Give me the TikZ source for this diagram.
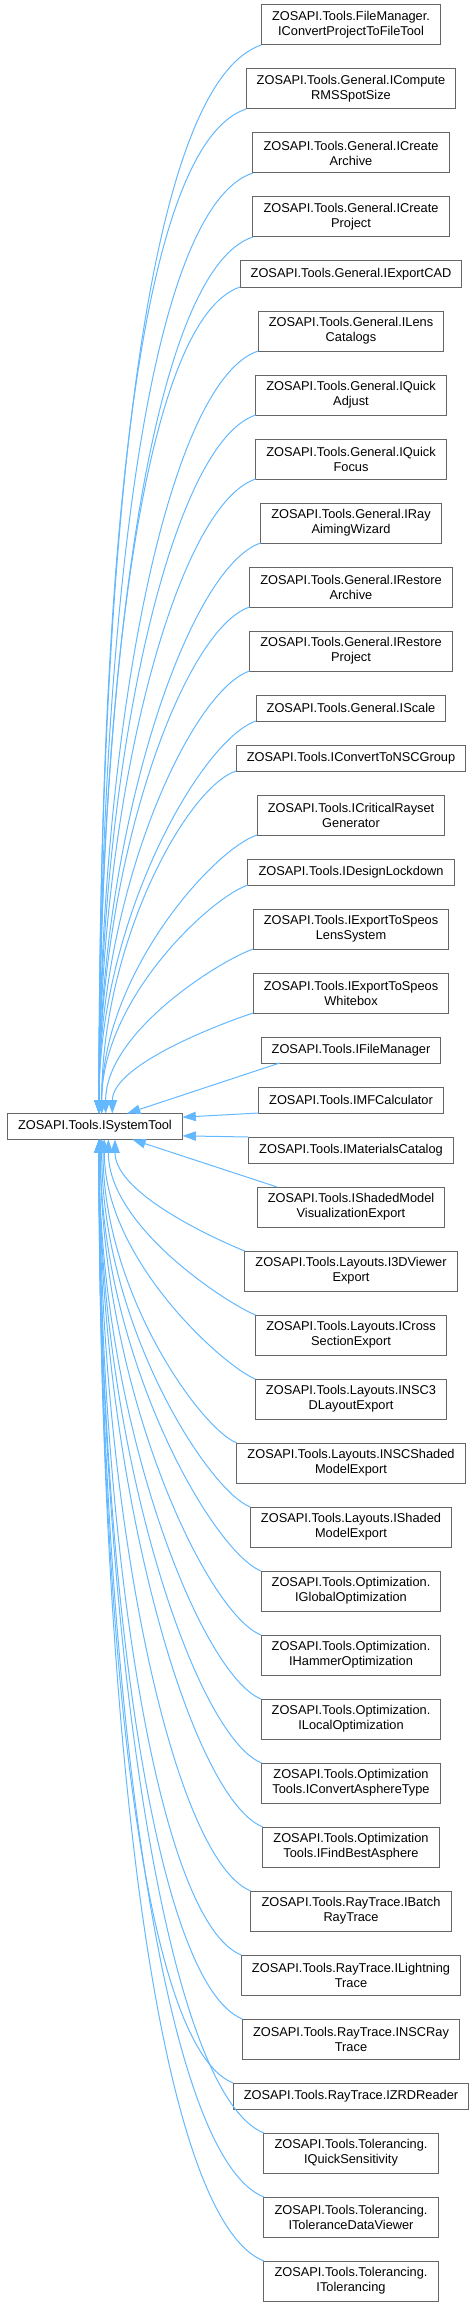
\documentclass[tikz,border=0pt]{standalone}
\usepackage{fontspec}
\setmainfont{Liberation Sans}
\usetikzlibrary{arrows.meta}
\usetikzlibrary{positioning}
\definecolor{edgeblue}{HTML}{63B8FF}
\definecolor{boxgray}{HTML}{666666}
\tikzset{
  oneline/.style={rectangle, draw=boxgray, fill=white, line width=0.75pt, outer sep=0pt, align=center, inner xsep=8pt, inner ysep=0pt, minimum height=19.5pt, font=\fontsize{9.6}{11.25}\selectfont},
  twoline/.style={oneline, minimum height=30pt},
  arrow/.style={draw=edgeblue, line width=0.75pt, -{Triangle[length=10pt, width=7pt]}}
  }

\begin{document}
\begin{tikzpicture}[x=0.75pt, y=0.75pt]
	\useasboundingbox (0,0) rectangle (475,-2308);

	% Base
	\node[oneline] (systool) at (95,-1126.5) {ZOSAPI.Tools.ISystemTool};

	% Nodes
	\node[twoline] (convproj) at (351,-25) {ZOSAPI.Tools.FileManager.\\IConvertProjectToFileTool};
	\node[twoline, below = 18pt of convproj] (rmsspot) {ZOSAPI.Tools.General.ICompute\\RMSSpotSize};
	\node[twoline, below = 18pt of rmsspot] (createarch) {ZOSAPI.Tools.General.ICreate\\Archive};
	\node[twoline, below = 18pt of createarch] (createproj) {ZOSAPI.Tools.General.ICreate\\Project};
	\node[oneline, below = 18pt of createproj] (exportcad) {ZOSAPI.Tools.General.IExportCAD};
	\node[twoline, below = 18pt of exportcad] (lenscat) {ZOSAPI.Tools.General.ILens\\Catalogs};
	\node[twoline, below = 18pt of lenscat] (quickadj) {ZOSAPI.Tools.General.IQuick\\Adjust};
	\node[twoline, below = 18pt of quickadj] (quickfocus) {ZOSAPI.Tools.General.IQuick\\Focus};
	\node[twoline, below = 18pt of quickfocus] (rayaiming) {ZOSAPI.Tools.General.IRay\\AimingWizard};
	\node[twoline, below = 18pt of rayaiming] (restorearch) {ZOSAPI.Tools.General.IRestore\\Archive};
	\node[twoline, below = 18pt of restorearch] (restoreproj) {ZOSAPI.Tools.General.IRestore\\Project};
	\node[oneline, below = 18pt of restoreproj] (scale) {ZOSAPI.Tools.General.IScale};
	\node[oneline, below = 18pt of scale] (tonsc) {ZOSAPI.Tools.IConvertToNSCGroup};
	\node[twoline, below = 18pt of tonsc] (critray) {ZOSAPI.Tools.ICriticalRayset\\Generator};
	\node[oneline, below = 18pt of critray] (lockdown) {ZOSAPI.Tools.IDesignLockdown};
	\node[twoline, below = 18pt of lockdown] (speoslens) {ZOSAPI.Tools.IExportToSpeos\\LensSystem};
	\node[twoline, below = 18pt of speoslens] (speoswhite) {ZOSAPI.Tools.IExportToSpeos\\Whitebox};
	\node[oneline, below = 18pt of speoswhite] (filemgr) {ZOSAPI.Tools.IFileManager};
	\node[oneline, below = 18pt of filemgr] (mfcalc) {ZOSAPI.Tools.IMFCalculator};
	\node[oneline, below = 18pt of mfcalc] (matcat) {ZOSAPI.Tools.IMaterialsCatalog};
	\node[twoline, below = 18pt of matcat] (shadedvis) {ZOSAPI.Tools.IShadedModel\\VisualizationExport};
	\node[twoline, below = 18pt of shadedvis] (viewer3d) {ZOSAPI.Tools.Layouts.I3DViewer\\Export};
	\node[twoline, below = 18pt of viewer3d] (crosssec) {ZOSAPI.Tools.Layouts.ICross\\SectionExport};
	\node[twoline, below = 18pt of crosssec] (nsc3d) {ZOSAPI.Tools.Layouts.INSC3\\DLayoutExport};
	\node[twoline, below = 18pt of nsc3d] (nscshaded) {ZOSAPI.Tools.Layouts.INSCShaded\\ModelExport};
	\node[twoline, below = 18pt of nscshaded] (shadedexp) {ZOSAPI.Tools.Layouts.IShaded\\ModelExport};
	\node[twoline, below = 18pt of shadedexp] (globalopt) {ZOSAPI.Tools.Optimization.\\IGlobalOptimization};
	\node[twoline, below = 18pt of globalopt] (hammeropt) {ZOSAPI.Tools.Optimization.\\IHammerOptimization};
	\node[twoline, below = 18pt of hammeropt] (localopt) {ZOSAPI.Tools.Optimization.\\ILocalOptimization};
	\node[twoline, below = 18pt of localopt] (convasph) {ZOSAPI.Tools.Optimization\\Tools.IConvertAsphereType};
	\node[twoline, below = 18pt of convasph] (bestasph) {ZOSAPI.Tools.Optimization\\Tools.IFindBestAsphere};
	\node[twoline, below = 18pt of bestasph] (batchray) {ZOSAPI.Tools.RayTrace.IBatch\\RayTrace};
	\node[twoline, below = 18pt of batchray] (lightning) {ZOSAPI.Tools.RayTrace.ILightning\\Trace};
	\node[twoline, below = 18pt of lightning] (nscray) {ZOSAPI.Tools.RayTrace.INSCRay\\Trace};
	\node[oneline, below = 18pt of nscray] (zrdreader) {ZOSAPI.Tools.RayTrace.IZRDReader};
	\node[twoline, below = 18pt of zrdreader] (quicksens) {ZOSAPI.Tools.Tolerancing.\\IQuickSensitivity};
	\node[twoline, below = 18pt of quicksens] (toldata) {ZOSAPI.Tools.Tolerancing.\\IToleranceDataViewer};
	\node[twoline, below = 18pt of toldata] (tolerancing) {ZOSAPI.Tools.Tolerancing.\\ITolerancing};

	% Arrows from above
	\draw [arrow] (convproj.south west) .. controls +(-122,-41) and +(0,535) .. ([xshift=3pt]systool.north);
	\draw [arrow] (rmsspot.south west) .. controls +(-116,-39) and +(0,502) .. ([xshift=3pt]systool.north);
	\draw [arrow] (createarch.south west) .. controls +(-109,-36) and +(0,470) .. ([xshift=3pt]systool.north);
	\draw [arrow] (createproj.south west) .. controls +(-103,-34) and +(0,438) .. ([xshift=3pt]systool.north);
	\draw [arrow] (exportcad.south west) .. controls +(-98,-33) and +(0,413) .. ([xshift=3pt]systool.north);
	\draw [arrow] (lenscat.south west) .. controls +(-91,-30) and +(0,381) .. ([xshift=3pt]systool.north);
	\draw [arrow] (quickadj.south west) .. controls +(-85,-28) and +(0,350) .. ([xshift=3pt]systool.north);
	\draw [arrow] (quickfocus.south west) .. controls +(-79,-26) and +(0,318) .. ([xshift=3pt]systool.north);
	\draw [arrow] (rayaiming.south west) .. controls +(-72,-24) and +(0,286) .. ([xshift=3pt]systool.north);
	\draw [arrow] (restorearch.south west) .. controls +(-66,-22) and +(0,254) .. ([xshift=3pt]systool.north);
	\draw [arrow] (restoreproj.south west) .. controls +(-59,-20) and +(0,222) .. ([xshift=3pt]systool.north);
	\draw [arrow] (scale.south west) .. controls +(-54,-18) and +(0,196) .. ([xshift=3pt]systool.north);
	\draw [arrow] (tonsc.south west) .. controls +(-49,-16) and +(0,172) .. ([xshift=5pt]systool.north);
	\draw [arrow] (critray.south west) .. controls +(-43,-14) and +(0,140) .. ([xshift=5pt]systool.north);
	\draw [arrow] (lockdown.south west) .. controls +(-38,-13) and +(0,114) .. ([xshift=5pt]systool.north);
	\draw [arrow] (speoslens.south west) .. controls +(-32,-11) and +(0,82) .. ([xshift=8pt]systool.north);
	\draw [arrow] (speoswhite.south west) .. controls +(-25,-8) and +(0,50) .. ([xshift=13pt]systool.north);
	\draw [arrow] ([xshift=14pt]filemgr.south west) -- ([xshift=24pt]systool.north);

	% Arrows from the side
	\draw [arrow] (mfcalc.south west) -- ([yshift=7pt]systool.east);
	\draw [arrow] (matcat.north west) -- ([yshift=-7pt]systool.east);

	% Arrows from below
	\draw [arrow] ([xshift=15pt]shadedvis.north west) -- ([xshift=28pt]systool.south);
	\draw [arrow] (viewer3d.north west) .. controls +(-20,8) and +(0,-56) .. ([xshift=15pt]systool.south);
	\draw [arrow] (crosssec.north west) .. controls +(-26,10) and +(0,-88) .. ([xshift=10pt]systool.south);
	\draw [arrow] (nsc3d.north west) .. controls +(-32,13) and +(0,-120) .. ([xshift=7pt]systool.south);
	\draw [arrow] (nscshaded.north west) .. controls +(-37,15) and +(0,-152) .. ([xshift=6pt]systool.south);
	\draw [arrow] (shadedexp.north west) .. controls +(-43,17) and +(0,-184) .. ([xshift=5pt]systool.south);
	\draw [arrow] (globalopt.north west) .. controls +(-49,20) and +(0,-216) .. ([xshift=4pt]systool.south);
	\draw [arrow] (hammeropt.north west) .. controls +(-55,22) and +(0,-248) .. ([xshift=4pt]systool.south);
	\draw [arrow] (localopt.north west) .. controls +(-60,24) and +(0,-280) .. ([xshift=3pt]systool.south);
	\draw [arrow] (convasph.north west) .. controls +(-66,26) and +(0,-312) .. ([xshift=3pt]systool.south);
	\draw [arrow] (bestasph.north west) .. controls +(-72,29) and +(0,-344) .. ([xshift=3pt]systool.south);
	\draw [arrow] (batchray.north west) .. controls +(-78,31) and +(0,-376) .. ([xshift=3pt]systool.south);
	\draw [arrow] (lightning.north west) .. controls +(-83,33) and +(0,-408) .. ([xshift=3pt]systool.south);
	\draw [arrow] (nscray.north west) .. controls +(-89,36) and +(0,-440) .. ([xshift=3pt]systool.south);
	\draw [arrow] (zrdreader.north west) .. controls +(-95,38) and +(0,-472) .. ([xshift=3pt]systool.south);
	\draw [arrow] (quicksens.north west) .. controls +(-99,40) and +(0,-497) .. ([xshift=3pt]systool.south);
	\draw [arrow] (toldata.north west) .. controls +(-105,42) and +(0,-529) .. ([xshift=3pt]systool.south);
	\draw [arrow] (tolerancing.north west) .. controls +(-111,44) and +(0,-561) .. ([xshift=3pt]systool.south);
\end{tikzpicture}
\end{document}
